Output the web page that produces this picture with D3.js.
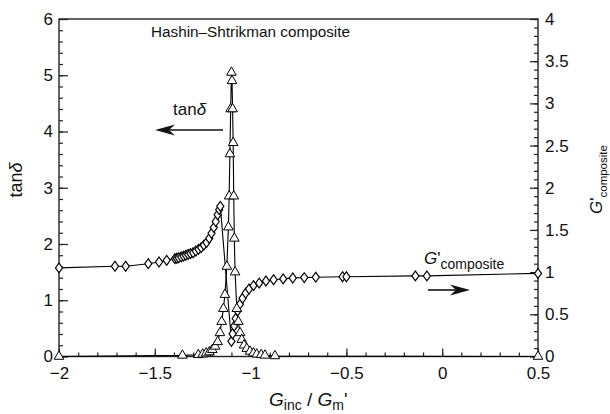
<!DOCTYPE html>
<html><head><meta charset="utf-8">
<script src="https://cdn.jsdelivr.net/npm/d3@7"></script>
<style>body{margin:0;background:#fff}svg{display:block}text{font-family:"Liberation Sans",Arial,sans-serif;fill:#111}</style>
</head><body>
<script>
// G'composite (diamonds, right axis)
const gX = [-2.0,-1.708,-1.652,-1.534,-1.478,-1.438,-1.395,-1.385,-1.375,-1.362,-1.35,-1.338,-1.326,-1.314,-1.30,-1.286,-1.272,-1.258,-1.244,-1.23,-1.216,-1.204,-1.192,-1.182,-1.172,-1.164,-1.158,-1.10,-1.094,-1.086,-1.078,-1.068,-1.056,-1.042,-1.026,-1.008,-0.985,-0.955,-0.92,-0.88,-0.83,-0.78,-0.72,-0.66,-0.52,-0.50,-0.14,-0.08,0.5];
const gVal = [1.05,1.07,1.07,1.10,1.12,1.14,1.16,1.165,1.17,1.18,1.19,1.20,1.21,1.22,1.23,1.25,1.27,1.29,1.32,1.35,1.40,1.46,1.53,1.60,1.68,1.74,1.78,0.18,0.27,0.36,0.45,0.54,0.62,0.69,0.75,0.80,0.84,0.87,0.895,0.91,0.92,0.93,0.935,0.94,0.945,0.945,0.955,0.955,0.985];
// tan delta (triangles, left axis)
const tX = [-2.0,-1.356,-1.273,-1.25,-1.232,-1.215,-1.2,-1.185,-1.172,-1.16,-1.151,-1.142,-1.134,-1.124,-1.116,-1.112,-1.108,-1.104,-1.1,-1.097,-1.094,-1.091,-1.088,-1.085,-1.081,-1.072,-1.064,-1.055,-1.046,-1.034,-1.02,-1.003,-0.985,-0.968,-0.945,-0.925,-0.873,0.5];
const tVal = [0.0,0.02,0.03,0.04,0.06,0.08,0.12,0.18,0.26,0.42,0.62,0.85,1.1,1.6,2.3,2.85,3.6,4.4,5.05,4.9,4.4,3.8,2.85,2.1,1.5,0.85,0.62,0.42,0.3,0.2,0.14,0.09,0.06,0.04,0.03,0.02,0.01,0.0];
const xTicks = [-2,-1.5,-1,-0.5,0,0.5];
const yLTicks = [0,1,2,3,4,5,6];
const yRTicks = [0,0.5,1,1.5,2,2.5,3,3.5,4];

const W=610,H=414;
const svg=d3.select("body").append("svg").attr("width",W).attr("height",H);
const L=59,R=538,T=19,B=356.5;
const x=d3.scaleLinear().domain([-2,0.5]).range([L,R]);
const yL=d3.scaleLinear().domain([0,6]).range([B,T]);
const yR=d3.scaleLinear().domain([0,4]).range([B,T]);
const fmt=d=>String(d).replace("-","\u2212");
const ax="#222";
const FS=17;

function styleAxis(g){g.select(".domain").remove();g.selectAll("line").attr("stroke",ax).attr("stroke-width",1.2);g.selectAll("text").style("font-size",FS+"px").attr("fill","#111");}
// minor ticks
const xMinor=d3.range(-2,0.5001,0.1).map(v=>+v.toFixed(2));
svg.append("g").attr("transform",`translate(0,${B})`).call(d3.axisBottom(x).tickValues(xMinor).tickSize(-4).tickFormat("")).call(styleAxis);
svg.append("g").attr("transform",`translate(0,${B})`).call(d3.axisBottom(x).tickValues(xTicks).tickSizeInner(-8).tickSizeOuter(0).tickPadding(10).tickFormat(fmt)).call(styleAxis);
const yLMinor=d3.range(0,6.001,0.2).map(v=>+v.toFixed(2));
svg.append("g").attr("transform",`translate(${L},0)`).call(d3.axisLeft(yL).tickValues(yLMinor).tickSize(-4).tickFormat("")).call(styleAxis);
svg.append("g").attr("transform",`translate(${L},0)`).call(d3.axisLeft(yL).tickValues(yLTicks).tickSizeInner(-9).tickSizeOuter(0).tickPadding(6).tickFormat(fmt)).call(styleAxis);
const yRMinor=d3.range(0,4.001,0.1).map(v=>+v.toFixed(2));
svg.append("g").attr("transform",`translate(${R},0)`).call(d3.axisRight(yR).tickValues(yRMinor).tickSize(-4).tickFormat("")).call(styleAxis);
svg.append("g").attr("transform",`translate(${R},0)`).call(d3.axisRight(yR).tickValues(yRTicks).tickSizeInner(-8).tickSizeOuter(0).tickPadding(7).tickFormat(fmt)).call(styleAxis);
// frame
svg.append("rect").attr("x",L).attr("y",T).attr("width",R-L).attr("height",B-T).attr("fill","none").attr("stroke",ax).attr("stroke-width",1.4);

// lines
const lineG=d3.line().x((d,i)=>x(gX[i])).y((d,i)=>yR(gVal[i]));
const lineT=d3.line().x((d,i)=>x(tX[i])).y((d,i)=>yL(tVal[i]));
svg.append("path").attr("d",lineG(gX)).attr("fill","none").attr("stroke","#000").attr("stroke-width",1.1);
svg.append("path").attr("d",lineT(tX)).attr("fill","none").attr("stroke","#000").attr("stroke-width",1.1);
const dia=d3.symbol().type(d3.symbolDiamond).size(28);
svg.append("g").selectAll("path").data(gX).join("path").attr("d",dia)
 .attr("transform",(d,i)=>`translate(${x(gX[i])},${yR(gVal[i])}) scale(1.25,1)`).attr("fill","#fff").attr("stroke","#000").attr("stroke-width",1);
const tri=d3.symbol().type(d3.symbolTriangle).size(40);
svg.append("g").selectAll("path").data(tX).join("path").attr("d",tri)
 .attr("transform",(d,i)=>`translate(${x(tX[i])},${yL(tVal[i])})`).attr("fill","#fff").attr("stroke","#000").attr("stroke-width",1);

// annotations
svg.append("text").attr("x",151).attr("y",37).style("font-size","15.3px").text("Hashin\u2013Shtrikman composite");
const t1=svg.append("text").attr("x",173).attr("y",115).style("font-size","17px");
t1.append("tspan").text("tan");t1.append("tspan").style("font-style","italic").text("\u03b4");
function arrow(x1,y,x2){
  const s=x2>x1?-1:1;
  svg.append("line").attr("x1",x1).attr("y1",y).attr("x2",x2+s*10).attr("y2",y).attr("stroke","#111").attr("stroke-width",1.6);
  svg.append("path").attr("d",`M${x2},${y} L${x2+s*20},${y-5.5} L${x2+s*14},${y} L${x2+s*20},${y+5.5} Z`).attr("fill","#111");
}
arrow(223,130,155);
arrow(428,290,470);
const t2=svg.append("text").attr("x",424).attr("y",264).style("font-size","17px");
t2.append("tspan").style("font-style","italic").text("G");t2.append("tspan").text("'");
t2.append("tspan").attr("dy",5).style("font-size","14px").text("composite");

// axis titles
const yl=svg.append("text").attr("transform","translate(22,180) rotate(-90)").attr("text-anchor","middle").style("font-size","18px");
yl.append("tspan").text("tan");yl.append("tspan").style("font-style","italic").text("\u03b4");
const yr=svg.append("text").attr("transform","translate(602,214) rotate(-90)").style("font-size","17px");
yr.append("tspan").style("font-style","italic").text("G");yr.append("tspan").text("'");
yr.append("tspan").attr("dy",5).style("font-size","11.5px").text("composite");
const xl=svg.append("text").attr("x",269).attr("y",406).style("font-size","19px");
xl.append("tspan").style("font-style","italic").text("G");
xl.append("tspan").attr("dy",4).style("font-size","14px").text("inc");
xl.append("tspan").attr("dy",-4).text(" / ");
xl.append("tspan").style("font-style","italic").text("G");
xl.append("tspan").attr("dy",4).style("font-size","14px").text("m");
xl.append("tspan").attr("dy",-4).text("'");
</script>
</body></html>
